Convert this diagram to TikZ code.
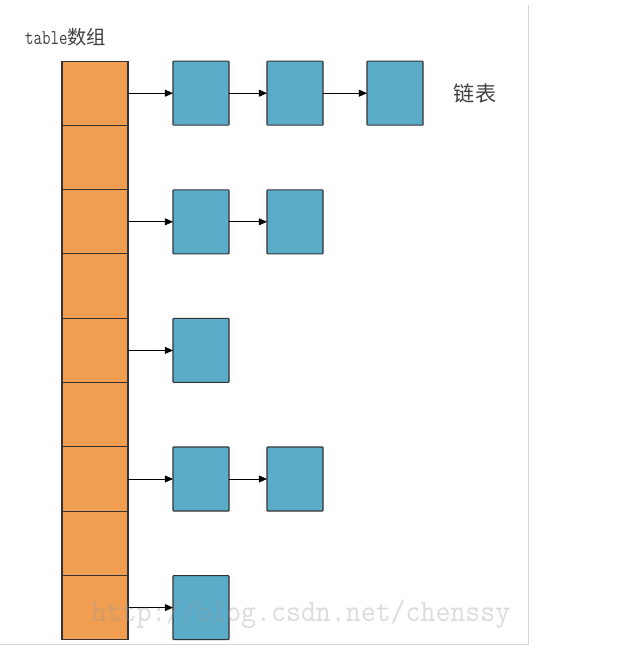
\documentclass[tikz,border=0pt]{standalone}
\usepackage{fontspec}
\newfontfamily\cjk{Noto Sans CJK SC}
\usetikzlibrary{arrows.meta}
\definecolor{arrayorange}{RGB}{240,158,82}
\definecolor{entryblue}{RGB}{91,172,200}
\definecolor{framegray}{RGB}{212,212,212}

\begin{document}
\begin{tikzpicture}[
    x=0.03cm, y=-0.03cm,
    cell/.style={draw=black!80, line width=0.9pt, fill=arrayorange, minimum width=1.98cm, minimum height=1.93cm, inner sep=0pt, outer sep=0pt},
    entry/.style={draw=black!80, line width=0.9pt, fill=entryblue, rounded corners=0.6pt, minimum width=1.68cm, minimum height=1.92cm, inner sep=0pt, outer sep=0pt},
    link/.style={line width=0.7pt, black, -{Triangle[length=7pt,width=6pt]}},
    label/.style={text=black!75, inner sep=0pt}
  ]
  \useasboundingbox (0,0) rectangle (630,671);
  \draw[framegray, line width=0.8pt] (528,5) -- (528,644) -- (0,644);

  % the table array
  \foreach \i in {0,...,8}
    \node[cell] (t\i) at (95,{93.2+64.3*\i}) {};
  \node[label, anchor=west] (tablelbl) at (25,37) {\scalebox{0.78}[1]{\ttfamily\fontsize{18pt}{18pt}\selectfont table}{\cjk\fontsize{16.5pt}{16.5pt}\selectfont 数组}};

  % the linked lists
  \foreach \r/\n in {0/3,2/2,4/1,6/2,8/1}{
    \foreach \k/\xk in {1/201,2/295,3/395}{
      \ifnum\k>\n\else
        \node[entry] (e\r-\k) at (\xk,{93.2+64.3*\r}) {};
        \ifnum\k=1
          \draw[link] (t\r.east) -- (e\r-\k.west);
        \else
          \pgfmathtruncatemacro\prev{\k-1}
          \draw[link] (e\r-\prev.east) -- (e\r-\k.west);
        \fi
      \fi
    }
  }
  \node[label] (listlbl) at (475,93) {\cjk\fontsize{18pt}{18pt}\selectfont 链表};

  \node[text=black!40, text opacity=0.35, inner sep=0pt] (mark) at (301,614) {\scalebox{0.935}[1]{\ttfamily\fontsize{26.5pt}{26.5pt}\selectfont http://blog.csdn.net/chenssy}};
\end{tikzpicture}
\end{document}
